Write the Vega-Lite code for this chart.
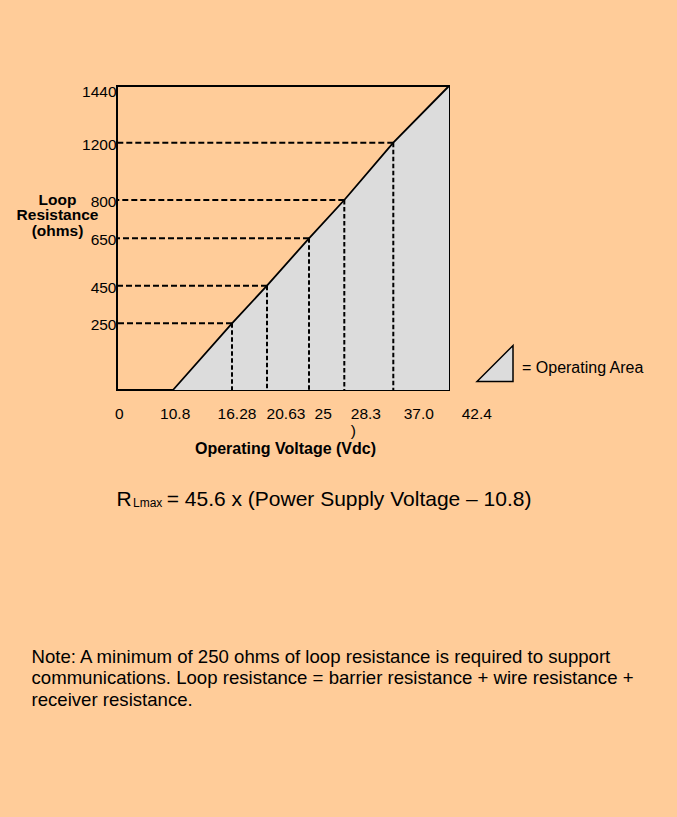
{
  "$schema": "https://vega.github.io/schema/vega-lite/v6.json",
  "width": 332,
  "height": 304,
  "autosize": {"type": "none"},
  "padding": {"left": 117, "top": 86, "right": 228, "bottom": 427},
  "background": "#FFCC99",
  "config": {"font": "Liberation Sans", "view": {"stroke": "#000000", "strokeWidth": 2}},
  "title": {"text": "Lmax", "orient": "top", "anchor": "start", "frame": "group", "baseline": "alphabetic", "fontSize": 12, "fontWeight": "normal", "color": "#000000", "dx": 16, "dy": 437, "offset": 0},
  "datasets": {
    "limit": [
      {"v": 10.8, "r": 0},
      {"v": 16.28, "r": 250},
      {"v": 20.63, "r": 450},
      {"v": 25, "r": 650},
      {"v": 28.3, "r": 800},
      {"v": 37.0, "r": 1200},
      {"v": 42.4, "r": 1440}
    ],
    "guides": [
      {"v": 16.28, "r": 250},
      {"v": 20.63, "r": 450},
      {"v": 25, "r": 650},
      {"v": 28.3, "r": 800},
      {"v": 37.0, "r": 1200}
    ]
  },
  "resolve": {"axis": {"x": "independent", "y": "independent"}},
  "layer": [
    {
      "data": {"name": "limit"},
      "mark": {"type": "area", "color": "#DCDCDC", "opacity": 1},
      "encoding": {
        "x": {
          "field": "v", "type": "quantitative",
          "scale": {"type": "linear", "domain": [0, 10.8, 16.28, 20.63, 25, 28.3, 37.0, 42.4], "range": [0, 56, 115, 150, 192, 227.3, 276.3, 332], "zero": false, "nice": false},
          "axis": {
            "orient": "bottom",
            "values": [0, 10.8, 16.28, 20.63, 25, 28.3, 37, 42.4],
            "labelExpr": "datum.value == 37 ? '37.0' : datum.value == 28.3 ? ['28.3', ')'] : '' + datum.value",
            "labelFontSize": 15.5, "labelColor": "#000000", "labelPadding": 16, "labelBaseline": "top",
            "labelAlign": {"condition": {"test": "datum.value == 28.3", "value": "left"}, "value": "center"},
            "labelLineHeight": 17, "labelOverlap": false, "labelBound": false, "labelFlush": false, "labelLimit": 200,
            "labelOffset": {"condition": [
              {"test": "datum.value == 0", "value": 1.8},
              {"test": "datum.value == 10.8", "value": 1.7},
              {"test": "datum.value == 16.28", "value": 4.5},
              {"test": "datum.value == 20.63", "value": 18.5},
              {"test": "datum.value == 25", "value": 13.7},
              {"test": "datum.value == 28.3", "value": 6},
              {"test": "datum.value == 37", "value": 25},
              {"test": "datum.value == 42.4", "value": 27.3}
            ], "value": 0},
            "ticks": false, "tickSize": 0, "domain": false, "grid": false,
            "title": "Operating Voltage (Vdc)", "titleFontSize": 16, "titleFontWeight": "bold", "titleColor": "#000000",
            "titleX": 168, "titleY": 58, "titleAlign": "center", "titleBaseline": "middle", "titleLimit": 1000
          }
        },
        "y": {
          "field": "r", "type": "quantitative", "stack": null,
          "scale": {"type": "linear", "domain": [0, 250, 450, 650, 800, 1200, 1440], "range": [304, 237.3, 199.7, 152.3, 114, 56.7, 0], "zero": false, "nice": false},
          "axis": {
            "orient": "left",
            "values": [250, 450, 650, 800, 1200, 1440],
            "labelExpr": "'' + datum.value",
            "labelFontSize": 15.5, "labelColor": "#000000", "labelPadding": 1, "labelBaseline": "middle", "labelAlign": "right",
            "labelOffset": {"condition": {"test": "datum.value == 1440", "value": 5.5}, "value": 1.5},
            "labelOverlap": false, "labelBound": false, "labelFlush": false,
            "ticks": false, "tickSize": 0, "domain": false, "grid": false,
            "title": ["Loop", "Resistance", "(ohms)"], "titleFontSize": 15.5, "titleFontWeight": "bold", "titleColor": "#000000",
            "titleAngle": 0, "titleAlign": "center", "titleBaseline": "middle", "titleLineHeight": 15.5,
            "titleX": -60, "titleY": 113, "titleLimit": 1000
          }
        },
        "y2": {"datum": 0},
        "fill": {
          "datum": "= Operating Area", "type": "nominal",
          "scale": {"range": ["#DCDCDC"]},
          "legend": {
            "orient": "none", "legendX": 359, "legendY": 258.5, "title": null, "padding": 0,
            "symbolType": "M -1 1 L 1 -1 L 1 1 Z", "symbolSize": 1296,
            "symbolStrokeColor": "#000000", "symbolStrokeWidth": 1.5, "symbolOpacity": 1,
            "labelFontSize": 16, "labelColor": "#000000", "labelOffset": 8, "labelBaseline": "middle", "labelLimit": 300,
            "encode": {"labels": {"update": {"dy": {"value": 4}}}}
          }
        }
      }
    },
    {
      "data": {"name": "guides"},
      "mark": {"type": "rule", "color": "#000000", "strokeWidth": 2, "strokeDash": [6, 3]},
      "encoding": {
        "x": {"field": "v", "type": "quantitative", "scale": {"type": "linear", "domain": [0, 10.8, 16.28, 20.63, 25, 28.3, 37.0, 42.4], "range": [0, 56, 115, 150, 192, 227.3, 276.3, 332], "zero": false, "nice": false}, "axis": null},
        "x2": {"datum": 0},
        "y": {"field": "r", "type": "quantitative", "scale": {"type": "linear", "domain": [0, 250, 450, 650, 800, 1200, 1440], "range": [304, 237.3, 199.7, 152.3, 114, 56.7, 0], "zero": false, "nice": false}, "axis": null}
      }
    },
    {
      "data": {"name": "guides"},
      "mark": {"type": "rule", "color": "#000000", "strokeWidth": 2, "strokeDash": [4.5, 2.5]},
      "encoding": {
        "x": {"field": "v", "type": "quantitative", "scale": {"type": "linear", "domain": [0, 10.8, 16.28, 20.63, 25, 28.3, 37.0, 42.4], "range": [0, 56, 115, 150, 192, 227.3, 276.3, 332], "zero": false, "nice": false}, "axis": null},
        "y": {"field": "r", "type": "quantitative", "scale": {"type": "linear", "domain": [0, 250, 450, 650, 800, 1200, 1440], "range": [304, 237.3, 199.7, 152.3, 114, 56.7, 0], "zero": false, "nice": false}, "axis": null},
        "y2": {"datum": 0}
      }
    },
    {
      "data": {"name": "limit"},
      "mark": {"type": "line", "color": "#000000", "strokeWidth": 1.8},
      "encoding": {
        "x": {
          "field": "v", "type": "quantitative",
          "scale": {"type": "linear", "domain": [0, 10.8, 16.28, 20.63, 25, 28.3, 37.0, 42.4], "range": [0, 56, 115, 150, 192, 227.3, 276.3, 332], "zero": false, "nice": false},
          "axis": {
            "orient": "top", "labels": false, "ticks": false, "domain": false, "grid": false,
            "title": ["Note: A minimum of 250 ohms of loop resistance is required to support", "communications. Loop resistance = barrier resistance + wire resistance +", "receiver resistance."],
            "titleFontSize": 18.6, "titleFontWeight": "normal", "titleColor": "#000000", "titleAngle": 0,
            "titleAlign": "left", "titleBaseline": "top", "titleLineHeight": 21.5,
            "titleX": -86, "titleY": 561, "titleLimit": 1000
          }
        },
        "y": {
          "field": "r", "type": "quantitative",
          "scale": {"type": "linear", "domain": [0, 250, 450, 650, 800, 1200, 1440], "range": [304, 237.3, 199.7, 152.3, 114, 56.7, 0], "zero": false, "nice": false},
          "axis": {
            "orient": "right", "labels": false, "ticks": false, "domain": false, "grid": false,
            "title": "R\u00a0\u00a0\u00a0\u00a0\u00a0\u00a0= 45.6 x (Power Supply Voltage – 10.8)",
            "titleFontSize": 21, "titleFontWeight": "normal", "titleColor": "#000000", "titleAngle": 0,
            "titleAlign": "left", "titleBaseline": "alphabetic",
            "titleX": -333, "titleY": 419, "titleLimit": 1000
          }
        }
      }
    }
  ]
}
